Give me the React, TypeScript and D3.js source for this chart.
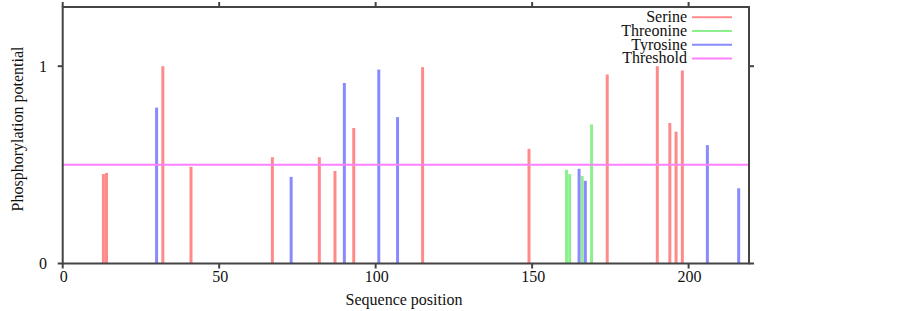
import React from "react";
import * as d3 from "d3";

const serinePos = [13, 14, 32, 41, 67, 82, 87, 93, 115, 149, 174, 190, 194, 196, 198];
const serineVal = [0.453, 0.459, 1.0, 0.49, 0.539, 0.539, 0.469, 0.687, 0.995, 0.581, 0.958, 1.0, 0.712, 0.668, 0.978];
const threoninePos = [161, 162, 166, 169];
const threonineVal = [0.475, 0.453, 0.444, 0.705];
const tyrosinePos = [30, 73, 90, 101, 107, 165, 167, 206, 216];
const tyrosineVal = [0.79, 0.439, 0.915, 0.983, 0.742, 0.48, 0.419, 0.6, 0.381];
const threshold = 0.5;
const xTicks = [0, 50, 100, 150, 200];
const yTicks = [0, 1];
const seriesNames = ["Serine", "Threonine", "Tyrosine", "Threshold"];
const seriesColors = ["#ff8a8a", "#8cf08c", "#8a8aff", "#ff80ff"];

const W = 903;
const H = 311;
const left = 62.7;
const right = 749;
const top = 7;
const bottom = 263.5;
const font = '"Liberation Serif", "DejaVu Serif", serif';
const axisColor = "#444";

export default function App() {
  const x = d3.scaleLinear().domain([0, 219.3]).range([left, right]);
  const y = d3.scaleLinear().domain([0, 1.3]).range([bottom, top]);

  const series = [
    { pos: serinePos, val: serineVal, color: seriesColors[0] },
    { pos: threoninePos, val: threonineVal, color: seriesColors[1] },
    { pos: tyrosinePos, val: tyrosineVal, color: seriesColors[2] },
  ];

  const tickLen = 5;
  const txt = { fontFamily: font, fontSize: 16, fill: "#111" } as React.CSSProperties;

  return (
    <svg
      width={W}
      height={H}
      style={{ position: "absolute", left: 0, top: 0, background: "#fff", fontFamily: font }}
    >
      {series.map((s, si) =>
        s.pos.map((p, i) => (
          <line
            key={`${si}-${i}`}
            x1={x(p)}
            x2={x(p)}
            y1={y(0)}
            y2={y(s.val[i])}
            stroke={s.color}
            strokeWidth={3}
          />
        ))
      )}
      <line
        x1={left}
        x2={right}
        y1={y(threshold)}
        y2={y(threshold)}
        stroke={seriesColors[3]}
        strokeWidth={2}
      />
      <rect
        x={left}
        y={top}
        width={right - left}
        height={bottom - top}
        fill="none"
        stroke={axisColor}
        strokeWidth={2}
      />
      {xTicks.map((t) => (
        <g key={`xt${t}`}>
          <line x1={x(t)} x2={x(t)} y1={bottom} y2={bottom + tickLen} stroke={axisColor} strokeWidth={2} />
          <line x1={x(t)} x2={x(t)} y1={top} y2={top - tickLen} stroke={axisColor} strokeWidth={2} />
          <text x={x(t) + 1} y={282} textAnchor="middle" style={txt}>
            {t}
          </text>
        </g>
      ))}
      {yTicks.map((t) => (
        <g key={`yt${t}`}>
          <line x1={left} x2={left - tickLen} y1={y(t)} y2={y(t)} stroke={axisColor} strokeWidth={2} />
          <line x1={right} x2={right + tickLen} y1={y(t)} y2={y(t)} stroke={axisColor} strokeWidth={2} />
          <text x={47} y={y(t) + 5.5} textAnchor="end" style={txt}>
            {t}
          </text>
        </g>
      ))}
      <text x={404} y={305} textAnchor="middle" style={txt}>
        Sequence position
      </text>
      <text transform={`translate(23,129) rotate(-90)`} textAnchor="middle" style={txt}>
        Phosphorylation potential
      </text>
      {seriesNames.map((n, i) => {
        const ly = 17.3 + i * 13.7;
        return (
          <g key={n}>
            <text x={687} y={ly + 5} textAnchor="end" style={txt}>
              {n}
            </text>
            <line x1={692} x2={732} y1={ly} y2={ly} stroke={seriesColors[i]} strokeWidth={2} />
          </g>
        );
      })}
    </svg>
  );
}
